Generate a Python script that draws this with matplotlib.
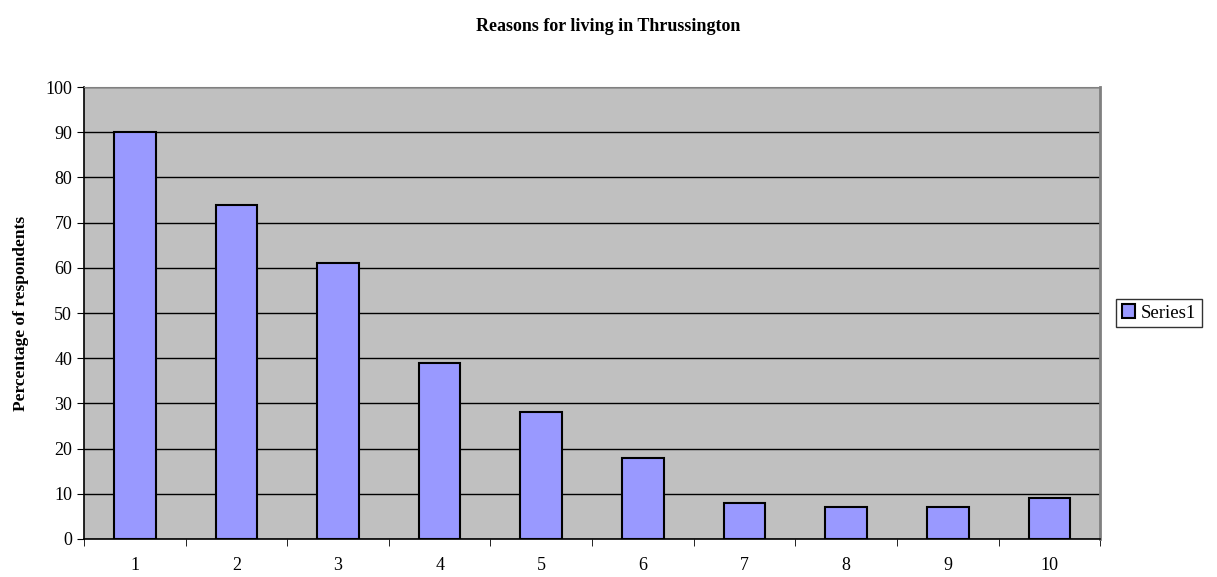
import matplotlib.pyplot as plt
from matplotlib.ticker import FixedLocator

plt.rcParams['font.family'] = ['Liberation Serif', 'DejaVu Serif']

# Data
categories = [str(i) for i in range(1, 11)]
values = [90, 74, 61, 39, 28, 18, 8, 7, 7, 9]
series_name = "Series1"

fig = plt.figure(figsize=(12.17, 5.77), dpi=100)
ax = fig.add_axes([0.069, 0.066, 0.835, 0.783])
ax.set_facecolor('#c0c0c0')

x = list(range(1, len(categories) + 1))
ax.bar(x, values, width=0.41, color='#9999ff', edgecolor='black', linewidth=1.5,
       label=series_name, zorder=3)

ax.set_xlim(0.5, len(categories) + 0.5)
ax.set_ylim(0, 100)
ax.set_yticks(range(0, 101, 10))
ax.yaxis.grid(True, color='black', linewidth=1, zorder=1)
ax.set_axisbelow(True)

# category labels at centers, tick marks at boundaries
ax.set_xticks(x)
ax.set_xticklabels(categories, fontsize=13)
ax.tick_params(axis='x', which='major', length=0, pad=13)
ax.xaxis.set_minor_locator(FixedLocator([i + 0.5 for i in range(0, len(categories) + 1)]))
ax.tick_params(axis='x', which='minor', length=5, direction='out', color='black')
ax.tick_params(axis='y', length=5, direction='out', labelsize=13)

for side in ['left', 'bottom']:
    ax.spines[side].set_color('black')
    ax.spines[side].set_linewidth(1.2)
ax.spines['top'].set_color('#808080')
ax.spines['right'].set_color('#808080')
ax.spines['right'].set_linewidth(2)

ax.set_ylabel('Percentage of respondents', fontsize=12.5, fontweight='bold', labelpad=12)
fig.suptitle('Reasons for living in Thrussington', fontsize=13, fontweight='bold', y=0.968)

leg = ax.legend(loc='center left', bbox_to_anchor=(1.016, 0.5), fontsize=13.5,
                frameon=True, fancybox=False, handlelength=0.7, handleheight=0.7,
                handletextpad=0.3, borderpad=0.3, borderaxespad=0)
leg.get_frame().set_edgecolor('black')
leg.get_frame().set_linewidth(1)

fig.savefig('out.png', dpi=100)
